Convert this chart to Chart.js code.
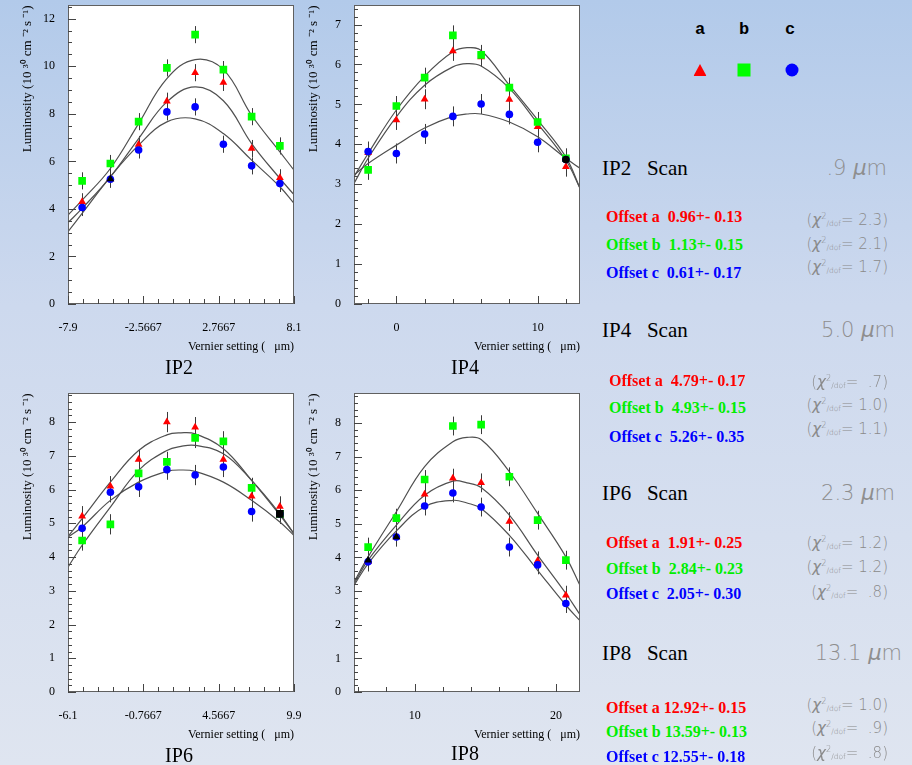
<!DOCTYPE html>
<html>
<head>
<meta charset="utf-8">
<script src="https://cdn.jsdelivr.net/npm/chart.js@4.4.1/dist/chart.umd.min.js"></script>
<style>
  html, body { margin: 0; padding: 0; }
  body {
    width: 912px; height: 765px; position: relative; overflow: hidden;
    background: linear-gradient(180deg, #b2caea 0%, #cdd9ee 40%, #dfe5f0 100%);
    font-family: 'Liberation Serif', 'Times New Roman', serif;
  }
  canvas { position: absolute; }
  .t { position: absolute; white-space: pre; line-height: 1; transform: translateY(-50%); }
  .ptitle { position: absolute; font-size: 20px; line-height: 1; transform: translate(-50%, -50%); }
  .scan { font-size: 21px; color: #000; }
  .width { font-family: 'DejaVu Sans', sans-serif; font-weight: 200; font-size: 21px; color: #8e8e8e; }
  .off { font-size: 16px; font-weight: bold; }
  .chi { font-family: 'DejaVu Sans', sans-serif; font-weight: 200; font-size: 15px; color: #8a8a8a; }
  .chi sup { font-size: 55%; vertical-align: 0.7em; }
  .chi sub { font-size: 50%; vertical-align: -0.1em; }
  .leg { position: absolute; font-family: 'Liberation Mono', monospace; font-weight: bold; font-size: 17px; transform: translate(-50%, -50%); }
  .mk { position: absolute; transform: translate(-50%, -50%); }
</style>
</head>
<body>
<canvas id="ip2" width="310" height="360" style="left:0px;top:0px"></canvas>
<canvas id="ip4" width="310" height="360" style="left:286px;top:0px"></canvas>
<canvas id="ip6" width="310" height="360" style="left:0px;top:388px"></canvas>
<canvas id="ip8" width="310" height="360" style="left:286px;top:388px"></canvas>

<div class="ptitle" style="left:179px;top:367px">IP2</div>
<div class="ptitle" style="left:465px;top:367px">IP4</div>
<div class="ptitle" style="left:179px;top:755px">IP6</div>
<div class="ptitle" style="left:465px;top:753px">IP8</div>

<div class="leg" style="left:700px;top:29px">a</div>
<div class="leg" style="left:744px;top:29px">b</div>
<div class="leg" style="left:790px;top:29px">c</div>
<div class="mk" style="left:700px;top:70px;width:13px;height:12px;background:#ff0000;clip-path:polygon(50% 0,100% 100%,0 100%)"></div>
<div class="mk" style="left:744px;top:70px;width:13px;height:13px;background:#00ff00"></div>
<div class="mk" style="left:792px;top:70px;width:13px;height:13px;background:#0000ff;border-radius:50%"></div>

<div id="text"></div>

<script>
// ---- IP2 scan ----
const ip2X = [-6.9, -4.9, -2.9, -0.9, 1.1, 3.1, 5.1, 7.1];
const ip2A = [4.30, 5.26, 6.71, 8.53, 9.73, 9.32, 6.54, 5.31];
const ip2B = [5.18, 5.91, 7.67, 9.93, 11.33, 9.86, 7.88, 6.65];
const ip2C = [4.06, 5.25, 6.48, 8.08, 8.29, 6.72, 5.81, 5.07];
const ip2BlackX = [-4.9];
const ip2BlackY = [5.26];
const ip2FitX = [-7.9, -6.9, -4.9, -2.9, -0.9, 1.1, 3.1, 5.1, 7.1, 8.1];
const ip2FitA = [3.42, 4.02, 5.35, 6.96, 8.50, 9.13, 8.55, 6.75, 5.28, 4.60];
const ip2FitB = [3.74, 4.37, 5.70, 7.59, 9.48, 10.28, 9.86, 7.94, 6.40, 5.63];
const ip2FitC = [3.04, 3.81, 5.35, 6.68, 7.66, 7.79, 7.17, 6.05, 4.93, 4.23];
const ip2XTicks = [-7.9, -2.5667, 2.7667, 8.1];
const ip2YTicks = [0, 2, 4, 6, 8, 10, 12];

// ---- IP4 scan ----
const ip4X = [-2, 0, 2, 4, 6, 8, 10, 12];
const ip4A = [3.79, 4.61, 5.13, 6.34, 6.19, 5.12, 4.44, 3.44];
const ip4B = [3.36, 4.96, 5.67, 6.73, 6.24, 5.42, 4.56, 3.65];
const ip4C = [3.82, 3.77, 4.26, 4.70, 5.01, 4.75, 4.05, 3.62];
const ip4BlackX = [12];
const ip4BlackY = [3.62];
const ip4FitX = [-3, -2, 0, 2, 4, 5, 6, 8, 10, 12, 13];
const ip4FitA = [3.02, 3.65, 4.69, 5.48, 5.94, 6.02, 5.96, 5.40, 4.52, 3.60, 2.90];
const ip4FitB = [3.19, 3.77, 4.86, 5.71, 6.32, 6.42, 6.35, 5.48, 4.61, 3.68, 2.90];
const ip4FitC = [3.23, 3.52, 3.98, 4.41, 4.70, 4.76, 4.76, 4.56, 4.19, 3.65, 3.40];
const ip4XTicks = [0, 10];
const ip4YTicks = [0, 1, 2, 3, 4, 5, 6, 7];

// ---- IP6 scan ----
const ip6X = [-5.1, -3.1, -1.1, 0.9, 2.9, 4.9, 6.9, 8.9];
const ip6A = [5.21, 6.10, 6.89, 8.00, 7.85, 6.89, 5.80, 5.50];
const ip6B = [4.49, 4.97, 6.48, 6.82, 7.53, 7.43, 6.05, 5.28];
const ip6C = [4.85, 5.92, 6.08, 6.59, 6.43, 6.67, 5.35, 5.28];
const ip6BlackX = [8.9];
const ip6BlackY = [5.28];
const ip6FitX = [-6.1, -5.1, -3.1, -1.1, 0.9, 1.9, 2.9, 4.9, 6.9, 8.9, 9.9];
const ip6FitA = [4.61, 5.14, 6.22, 7.16, 7.62, 7.68, 7.65, 7.21, 6.27, 5.24, 4.69];
const ip6FitB = [3.70, 4.35, 5.48, 6.57, 7.16, 7.28, 7.31, 7.06, 6.27, 5.28, 4.69];
const ip6FitC = [4.59, 4.89, 5.68, 6.22, 6.54, 6.58, 6.54, 6.22, 5.68, 5.04, 4.64];
const ip6XTicks = [-6.1, -0.7667, 4.5667, 9.9];
const ip6YTicks = [0, 1, 2, 3, 4, 5, 6, 7, 8];

// ---- IP8 scan ----
const ip8X = [6.7, 8.7, 10.7, 12.7, 14.7, 16.7, 18.7, 20.7];
const ip8A = [3.87, 4.61, 5.88, 6.36, 6.22, 5.07, 3.90, 2.88];
const ip8B = [4.31, 5.17, 6.32, 7.91, 7.95, 6.40, 5.11, 3.92];
const ip8C = [3.87, 4.61, 5.53, 5.92, 5.50, 4.31, 3.78, 2.63];
const ip8BlackX = [6.7, 8.7];
const ip8BlackY = [3.92, 4.61];
const ip8FitX = [5.7, 6.7, 8.7, 10.7, 12.7, 13.7, 14.7, 16.7, 18.7, 20.7, 21.7];
const ip8FitA = [3.22, 3.92, 4.96, 5.85, 6.27, 6.22, 6.08, 5.26, 4.07, 2.93, 2.30];
const ip8FitB = [3.27, 4.02, 5.36, 6.70, 7.44, 7.57, 7.51, 6.55, 5.31, 4.02, 3.17];
const ip8FitC = [3.17, 3.82, 4.79, 5.51, 5.70, 5.62, 5.46, 4.66, 3.62, 2.58, 2.12];
const ip8XTicks = [10, 20];
const ip8YTicks = [0, 1, 2, 3, 4, 5, 6, 7, 8];

// ---- fit results (right column) ----
const scanNames = ['IP2', 'IP4', 'IP6', 'IP8'];
const scanWidths = ['.9', '5.0', '2.3', '13.1'];
const offsetA = [' 0.96+- 0.13', ' 4.79+- 0.17', ' 1.91+- 0.25', '12.92+- 0.15'];
const offsetB = [' 1.13+- 0.15', ' 4.93+- 0.15', ' 2.84+- 0.23', '13.59+- 0.13'];
const offsetC = [' 0.61+- 0.17', ' 5.26+- 0.35', ' 2.05+- 0.30', '12.55+- 0.18'];
const chiA = ['2.3', ' .7', '1.2', '1.0'];
const chiB = ['2.1', '1.0', '1.2', ' .9'];
const chiC = ['1.7', '1.1', ' .8', ' .8'];

const SERIF = "'Liberation Serif', 'Times New Roman', serif";
const pts = (xs, ys) => xs.map((x, i) => ({ x, y: ys[i] }));
const near = (list, v) => list.some(m => Math.abs(m - v) < 1e-3);

// white pad, error bars, frame and ROOT-style inner ticks
const frameTicks = {
    id: 'frameTicks',
    beforeDraw(chart) {
        const { ctx, chartArea: a } = chart;
        ctx.save();
        ctx.fillStyle = '#fff';
        ctx.fillRect(a.left, a.top, a.right - a.left, a.bottom - a.top);
        ctx.restore();
    },
    beforeDatasetsDraw(chart) {
        const { ctx, scales: { x, y } } = chart;
        ctx.save();
        ctx.strokeStyle = '#3a3a3a';
        ctx.lineWidth = 1;
        ctx.beginPath();
        chart.data.datasets.forEach(ds => {
            if (!ds.err) return;
            ds.data.forEach(p => {
                const px = Math.round(x.getPixelForValue(p.x)) + 0.5;
                ctx.moveTo(px, y.getPixelForValue(p.y + ds.err));
                ctx.lineTo(px, y.getPixelForValue(p.y - ds.err));
            });
        });
        ctx.stroke();
        ctx.restore();
    },
    afterDraw(chart, args, o) {
        const { ctx, chartArea: a, scales: { x, y } } = chart;
        ctx.save();
        ctx.strokeStyle = '#606060';
        ctx.lineWidth = 1;
        ctx.strokeRect(Math.round(a.left) + 0.5, Math.round(a.top) + 0.5,
            Math.round(a.right - a.left) - 1, Math.round(a.bottom - a.top) - 1);
        ctx.strokeStyle = '#444';
        ctx.beginPath();
        for (let v = y.min; v <= y.max + 1e-6; v += o.yStep) {
            const py = Math.round(y.getPixelForValue(v)) + 0.5;
            const len = near(o.yMajor, v) ? 8 : 4;
            ctx.moveTo(a.left, py);
            ctx.lineTo(a.left + len, py);
        }
        for (let v = o.xStart; v <= x.max + 1e-6; v += o.xStep) {
            const px = Math.round(x.getPixelForValue(v)) + 0.5;
            const len = near(o.xMajor, v) ? 8 : 5;
            ctx.moveTo(px, a.bottom);
            ctx.lineTo(px, a.bottom - len);
        }
        ctx.stroke();
        ctx.restore();
    },
};

// fixed axis boxes so every frame lands where the reference has it
const noPad = s => { s.paddingTop = 0; s.paddingBottom = 0; s.paddingLeft = 0; s.paddingRight = 0; };

function makePanel(id, p) {
    const curve = ys => ({
        data: pts(p.fitX, ys), showLine: true, tension: 0.4,
        borderColor: '#505050', borderWidth: 1.2, pointRadius: 0,
    });
    const marks = (xs, ys, style, color, r, err) => ({
        data: pts(xs, ys), pointStyle: style, pointRadius: r,
        backgroundColor: color, borderColor: color, borderWidth: 0, err,
    });

    return new Chart(document.getElementById(id), {
        type: 'scatter',
        data: {
            datasets: [
                marks(p.blackX, p.blackY, p.blackStyle, '#000', p.blackR),
                marks(p.x, p.c, 'circle', '#0000ff', 3.8, p.err),
                marks(p.x, p.b, 'rect', '#00ff00', 5.4, p.err),
                marks(p.x, p.a, 'triangle', '#ff0000', 4.5, p.err),
                curve(p.fitA),
                curve(p.fitB),
                curve(p.fitC),
            ],
        },
        options: {
            animation: false,
            responsive: false,
            devicePixelRatio: 1,
            layout: { padding: { top: 5, right: 16, bottom: 5, left: 0 } },
            plugins: {
                legend: { display: false },
                tooltip: { enabled: false },
                frameTicks: {
                    yStep: p.yStep, yMajor: p.yTicks,
                    xStart: p.xStart, xStep: p.xStep, xMajor: p.xTicks,
                },
            },
            scales: {
                x: {
                    type: 'linear', min: p.xMin, max: p.xMax,
                    grid: { display: false, drawTicks: false },
                    border: { display: false },
                    ticks: {
                        color: '#000', font: { family: SERIF, size: 12 },
                        padding: 17, maxRotation: 0, autoSkip: false,
                        callback: v => String(v),
                    },
                    afterBuildTicks: s => { s.ticks = p.xTicks.map(v => ({ value: v })); },
                    afterFit: s => { s.height = 51; noPad(s); },
                    title: {
                        display: true, text: 'Vernier setting (   \u03bcm)', align: 'end',
                        color: '#000', font: { family: SERIF, size: 12 },
                        padding: { top: 0, bottom: 1 },
                    },
                },
                y: {
                    type: 'linear', min: 0, max: p.yMax,
                    grid: { display: false, drawTicks: false },
                    border: { display: false },
                    ticks: {
                        color: '#000', font: { family: SERIF, size: 12 },
                        padding: 13, autoSkip: false,
                        callback: v => String(v),
                    },
                    afterBuildTicks: s => { s.ticks = p.yTicks.map(v => ({ value: v })); },
                    afterFit: s => { s.width = 68; noPad(s); },
                    title: {
                        display: true, text: 'Luminosity (10 \u00b3\u2070 cm \u207b\u00b2 s \u207b\u00b9)', align: 'end',
                        color: '#000', font: { family: SERIF, size: 13 },
                        padding: { top: 20, bottom: 0 },
                    },
                },
            },
        },
        plugins: [frameTicks],
    });
}

makePanel('ip2', {
    x: ip2X, a: ip2A, b: ip2B, c: ip2C, blackX: ip2BlackX, blackY: ip2BlackY,
    blackStyle: 'triangle', blackR: 4.5, err: 0.36,
    fitX: ip2FitX, fitA: ip2FitA, fitB: ip2FitB, fitC: ip2FitC,
    xTicks: ip2XTicks, yTicks: ip2YTicks, xMin: -7.9, xMax: 8.1, yMax: 12.56,
    xStart: -7.9, xStep: 16 / 15, yStep: 0.5,
});
makePanel('ip4', {
    x: ip4X, a: ip4A, b: ip4B, c: ip4C, blackX: ip4BlackX, blackY: ip4BlackY,
    blackStyle: 'circle', blackR: 3.8, err: 0.25,
    fitX: ip4FitX, fitA: ip4FitA, fitB: ip4FitB, fitC: ip4FitC,
    xTicks: ip4XTicks, yTicks: ip4YTicks, xMin: -3, xMax: 13, yMax: 7.48,
    xStart: -2, xStep: 2, yStep: 0.2,
});
makePanel('ip6', {
    x: ip6X, a: ip6A, b: ip6B, c: ip6C, blackX: ip6BlackX, blackY: ip6BlackY,
    blackStyle: 'rect', blackR: 5.4, err: 0.3,
    fitX: ip6FitX, fitA: ip6FitA, fitB: ip6FitB, fitC: ip6FitC,
    xTicks: ip6XTicks, yTicks: ip6YTicks, xMin: -6.1, xMax: 9.9, yMax: 8.85,
    xStart: -6.1, xStep: 16 / 15, yStep: 0.2,
});
makePanel('ip8', {
    x: ip8X, a: ip8A, b: ip8B, c: ip8C, blackX: ip8BlackX, blackY: ip8BlackY,
    blackStyle: 'triangle', blackR: 4.5, err: 0.28,
    fitX: ip8FitX, fitA: ip8FitA, fitB: ip8FitB, fitC: ip8FitC,
    xTicks: ip8XTicks, yTicks: ip8YTicks, xMin: 5.7, xMax: 21.7, yMax: 8.88,
    xStart: 6, xStep: 2, yStep: 0.2,
});

// right column text: scan title, beam width and fitted offsets
const titleY = [168, 330, 493, 653];
const widthRight = [887, 895, 895, 902];
const offX = [606, 609, 606, 606];
const offY = [[217, 245, 273], [381, 408, 437], [543, 569, 594], [708, 732, 757]];
const chiY = [[220, 244, 267], [382, 405, 429], [543, 567, 592], [705, 728, 753]];
const offColors = ['#ff0000', '#00ee00', '#0000ff'];

const box = document.getElementById('text');
function put(html, cls, style) {
    const d = document.createElement('div');
    d.className = 't ' + cls;
    d.innerHTML = html;
    Object.assign(d.style, style);
    box.appendChild(d);
}
scanNames.forEach((name, i) => {
    put(name + '   Scan', 'scan', { left: '602px', top: titleY[i] + 'px' });
    put(scanWidths[i] + ' <i>\u03bc</i>m', 'width', { right: (912 - widthRight[i]) + 'px', top: titleY[i] + 'px' });
    [offsetA[i], offsetB[i], offsetC[i]].forEach((s, k) => {
        put('Offset ' + 'abc'[k] + ' ' + s, 'off', { left: offX[i] + 'px', top: offY[i][k] + 'px', color: offColors[k] });
    });
    [chiA[i], chiB[i], chiC[i]].forEach((s, k) => {
        put('(<i>\u03c7</i><sup>2</sup><sub>/dof</sub>= ' + s + ')', 'chi', { right: '24px', top: chiY[i][k] + 'px' });
    });
});
</script>
</body>
</html>
